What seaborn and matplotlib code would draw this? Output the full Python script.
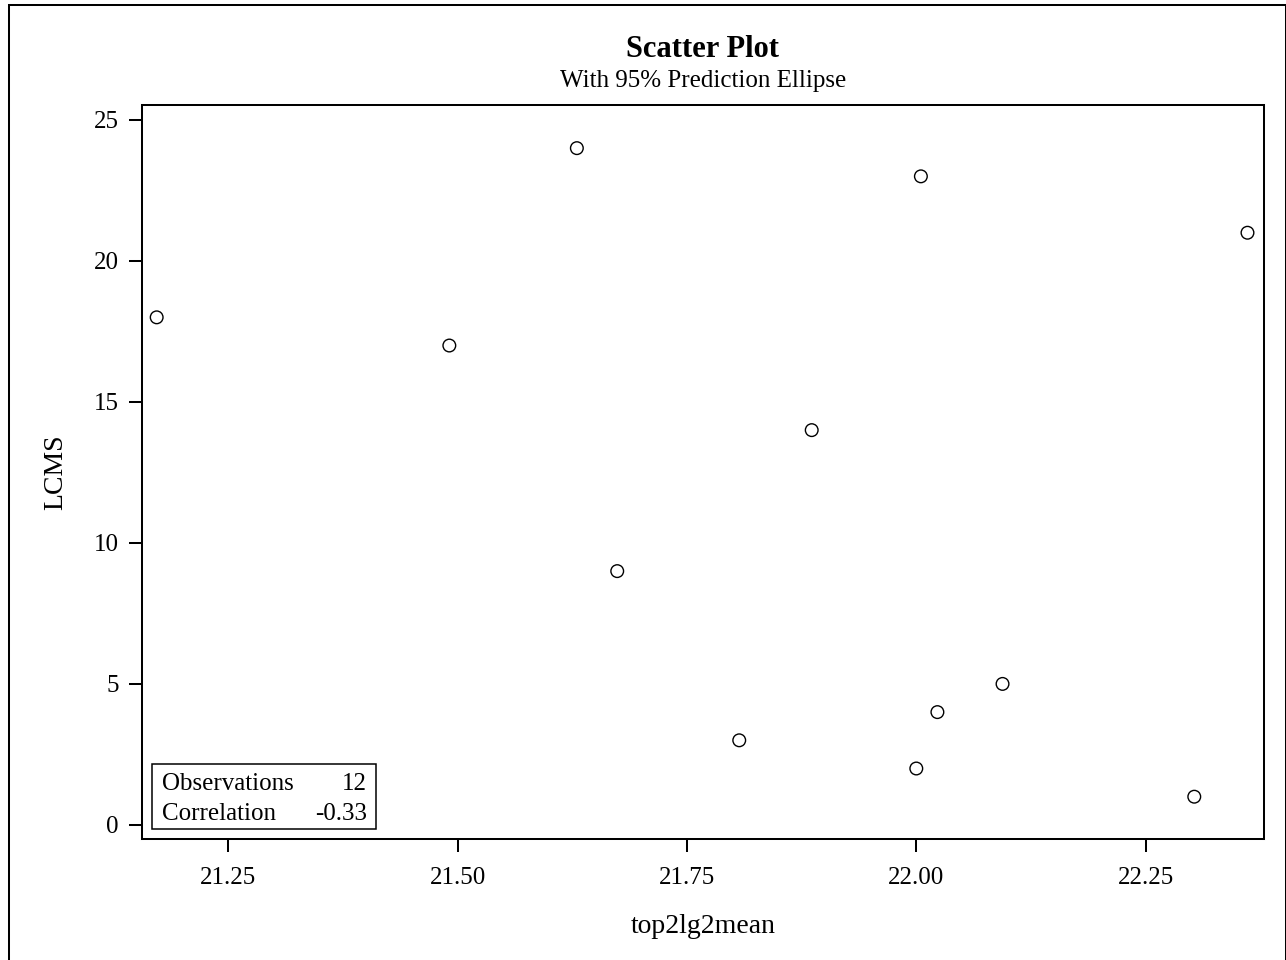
import numpy as np
import pandas as pd
import seaborn as sns
import matplotlib.pyplot as plt
from matplotlib.patches import Rectangle

# values
top2lg2mean = [21.172, 21.491, 21.630, 22.005, 22.361, 21.886,
               21.674, 21.807, 22.000, 22.023, 22.094, 22.303]
lcms = [18, 17, 24, 23, 21, 14, 9, 3, 2, 4, 5, 1]

x_ticks = [21.25, 21.50, 21.75, 22.00, 22.25]
x_tick_labels = ["21.25", "21.50", "21.75", "22.00", "22.25"]
y_ticks = [0, 5, 10, 15, 20, 25]
y_tick_labels = ["0", "5", "10", "15", "20", "25"]

stat_names = ["Observations", "Correlation"]
stat_values = ["12", "-0.33"]

df = pd.DataFrame({"top2lg2mean": top2lg2mean, "LCMS": lcms})

sns.set_style("ticks")
plt.rcParams["font.family"] = ["Liberation Serif", "DejaVu Serif"]
plt.rcParams["text.color"] = "black"
plt.rcParams["axes.labelcolor"] = "black"

W, H = 1286, 960
fig = plt.figure(figsize=(W / 100, H / 100), dpi=100)
fig.patch.set_facecolor("white")

# axes frame placed in pixel terms of the reference
left, right, top, bottom = 142, 1264, 105, 839
ax = fig.add_axes([left / W, 1 - bottom / H, (right - left) / W, (bottom - top) / H])

sns.scatterplot(data=df, x="top2lg2mean", y="LCMS", ax=ax, marker="o", s=83,
                facecolor="none", edgecolor="black", linewidth=1.0)
ax.collections[0].set_facecolor("none")

ax.set_xlim(21.156, 22.379)
ax.set_ylim(-0.5, 25.53)
ax.set_xticks(x_ticks)
ax.set_xticklabels(x_tick_labels)
ax.set_yticks(y_ticks)
ax.set_yticklabels(y_tick_labels)

for sp in ax.spines.values():
    sp.set_visible(True)
    sp.set_color("black")
    sp.set_linewidth(1.45)

ax.tick_params(axis="both", direction="out", length=9.4, width=1.45,
               colors="black", labelcolor="black", labelsize=18)
ax.tick_params(axis="x", pad=11)
ax.tick_params(axis="y", pad=7.5)

ax.set_xlabel("top2lg2mean", fontsize=20, va="baseline", color="black")
ax.xaxis.set_label_coords(0.5, (bottom - 933) / (bottom - top))
ax.set_ylabel("LCMS", fontsize=20, va="baseline", color="black")
ax.yaxis.set_label_coords((62 - left) / (right - left), 0.5)

# titles
cx = (left + right) / 2 / W
fig.text(cx, 1 - 57 / H, "Scatter Plot", ha="center", va="baseline",
         fontsize=22, fontweight="bold", color="black")
fig.text(cx, 1 - 87 / H, "With 95% Prediction Ellipse", ha="center",
         va="baseline", fontsize=18, color="black")

# statistics inset
ax.add_patch(Rectangle((0.0092, 0.0132), 0.2086 - 0.0092, 0.1018 - 0.0132,
                       transform=ax.transAxes, fill=False, edgecolor="black",
                       linewidth=1.1, zorder=5))
for name, val, yb in zip(stat_names, stat_values, [0.0668, 0.0259]):
    ax.text(0.0176, yb, name, transform=ax.transAxes, ha="left",
            va="baseline", fontsize=18, color="black")
    ax.text(0.2008, yb, val, transform=ax.transAxes, ha="right",
            va="baseline", fontsize=18, color="black")

# outer border of the graph
fig.patches.append(Rectangle((9 / W, -0.02), (1285.5 - 9) / W, 1.02 - 5 / H,
                             transform=fig.transFigure, fill=False,
                             edgecolor="black", linewidth=1.45))

fig.savefig("out.png", dpi=100)
